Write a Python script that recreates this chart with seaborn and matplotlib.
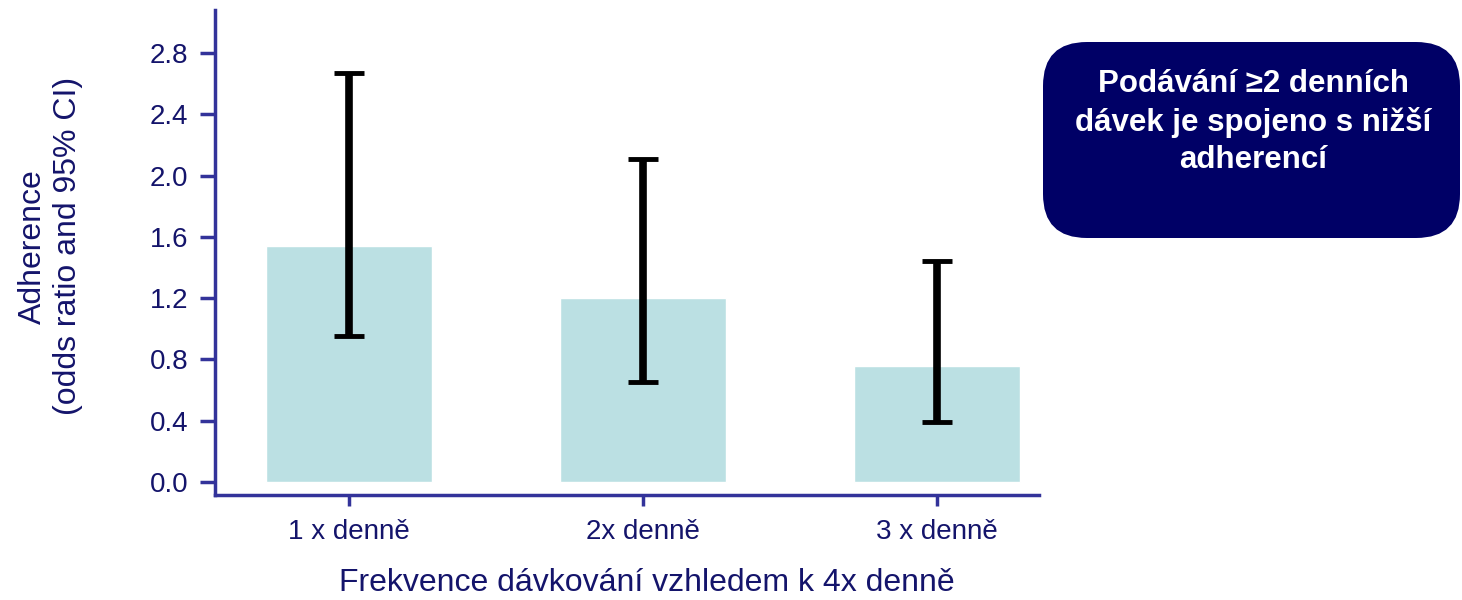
import matplotlib
matplotlib.use("Agg")
import matplotlib.pyplot as plt
import seaborn as sns
import pandas as pd
from matplotlib.patches import FancyBboxPatch

categories = ["1 x denně", "2x denně", "3 x denně"]
odds_ratio = [1.54, 1.20, 0.76]
ci_low = [0.95, 0.65, 0.39]
ci_high = [2.67, 2.11, 1.44]
y_ticks = [0.0, 0.4, 0.8, 1.2, 1.6, 2.0, 2.4, 2.8]

sns.set_style("white")
plt.rcParams['font.family'] = ['Liberation Sans', 'DejaVu Sans']

spine_col = "#33339a"
text_col = "#14146b"
bar_col = "#bbe0e3"

df = pd.DataFrame({"cat": categories, "val": odds_ratio})

fig = plt.figure(figsize=(14.62, 6.0), dpi=100)
ax = fig.add_axes([0.147, 0.175, 0.564, 0.808])

sns.barplot(data=df, x="cat", y="val", color=bar_col, width=0.565,
            saturation=1, errorbar=None, ax=ax)

yerr = [[v - l for v, l in zip(odds_ratio, ci_low)],
        [h - v for v, h in zip(odds_ratio, ci_high)]]
ax.errorbar(range(len(categories)), odds_ratio, yerr=yerr, fmt="none",
            ecolor="black", elinewidth=5.5, capsize=11, capthick=3.5, zorder=5)

ax.set_xlim(-0.456, 2.35)
ax.set_ylim(-0.085, 3.08)
ax.set_yticks(y_ticks)
ax.set_yticklabels([f"{t:.1f}" for t in y_ticks])

for s in ["top", "right"]:
    ax.spines[s].set_visible(False)
for s in ["left", "bottom"]:
    ax.spines[s].set_color(spine_col)
    ax.spines[s].set_linewidth(2.5)

ax.tick_params(axis="y", length=11, width=2.5, color=spine_col,
               labelcolor=text_col, labelsize=20, pad=8, left=True)
ax.tick_params(axis="x", length=8, width=2.5, color=spine_col,
               labelcolor=text_col, labelsize=20, pad=9, bottom=True)

ax.set_xlabel("Frekvence dávkování vzhledem k 4x denně", fontsize=23,
              color=text_col, labelpad=17)
ax.xaxis.label.set_x(0.524)
ax.set_ylabel("Adherence\n(odds ratio and 95% CI)", fontsize=23,
              color=text_col, labelpad=48, linespacing=1.25)
ax.yaxis.label.set_y(0.513)

box = FancyBboxPatch((1043 / 1462, 1 - 238 / 600), (1460 - 1043) / 1462, (238 - 42) / 600,
                     boxstyle="round,pad=0,rounding_size=0.03",
                     transform=fig.transFigure, facecolor="#000066",
                     edgecolor="none", mutation_aspect=1462 / 600)
fig.patches.append(box)
fig.text(1253 / 1462, 1 - 122 / 600,
         "Podávání ≥2 denních\ndávek je spojeno s nižší\nadherencí",
         ha="center", va="center", color="white", fontsize=22.5,
         fontweight="bold", linespacing=1.32)

fig.savefig("out.png", dpi=100)
